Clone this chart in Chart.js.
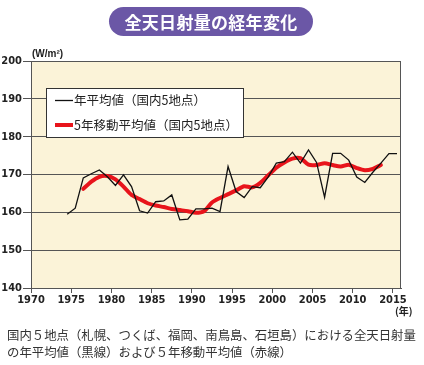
<!DOCTYPE html>
<html>
<head>
<meta charset="utf-8">
<script src="https://cdn.jsdelivr.net/npm/chart.js@4/dist/chart.umd.min.js"></script>
<style>
  body { margin: 0; width: 424px; height: 365px; background: #fff; position: relative; overflow: hidden;
         font-family: "Noto Sans CJK JP", "Noto Sans", sans-serif; }
  #wrap { position: absolute; left: 0; top: 0; width: 424px; height: 310px; }
  #title { position: absolute; left: 109px; top: 7px; width: 204px; height: 29px; border-radius: 15px;
           background: #6b57a6; color: #fff; font-weight: bold; font-size: 17px; line-height: 29px;
           text-align: center; letter-spacing: 0.3px; }
  .unit { position: absolute; font-family: "Liberation Sans", Arial, sans-serif; font-weight: bold;
          font-size: 10px; color: #222; }
  #caption { position: absolute; left: 7px; top: 327px; font-size: 12.4px; line-height: 17px; color: #333;
             white-space: nowrap; }
</style>
</head>
<body>
<div id="wrap"><canvas id="myChart" width="424" height="310"></canvas></div>
<div id="title">全天日射量の経年変化</div>
<div class="unit" style="left:32px; top:48px;">(W/m²)</div>
<div class="unit" style="left:395px; top:305px; line-height:12px; font-family:'Noto Sans CJK JP';">(年)</div>
<div id="caption">国内５地点（札幌、つくば、福岡、南鳥島、石垣島）における全天日射量<br>の年平均値（黒線）および５年移動平均値（赤線）</div>
<script>
// annual mean (black)
var years = [1974, 1975, 1976, 1977, 1978, 1979, 1980, 1981, 1982, 1983,
  1984, 1985, 1986, 1987, 1988, 1989, 1990, 1991, 1992, 1993,
  1994, 1995, 1996, 1997, 1998, 1999, 2000, 2001, 2002, 2003,
  2004, 2005, 2006, 2007, 2008, 2009, 2010, 2011, 2012, 2013,
  2014, 2015];
var annualMean = [159.5, 161.1, 169.1, 170.2, 171.2, 169.4, 167.1, 169.9, 166.8, 160.4,
  159.8, 162.8, 163.0, 164.6, 158.0, 158.2, 160.9, 160.9, 161.1, 160.2,
  172.1, 165.5, 163.9, 166.8, 166.5, 169.4, 173.0, 173.4, 175.9, 173.0,
  176.5, 173.2, 164.0, 175.6, 175.6, 173.8, 169.3, 167.9, 170.6, 173.0,
  175.5, 175.5];

// 5-year moving average (red)
var maYears = [1976, 1977, 1978, 1979, 1980, 1981, 1982, 1983, 1984, 1985,
  1986, 1987, 1988, 1989, 1990, 1991, 1992, 1993, 1994, 1995,
  1996, 1997, 1998, 1999, 2000, 2001, 2002, 2003, 2004, 2005,
  2006, 2007, 2008, 2009, 2010, 2011, 2012, 2013];
var movingAvg = [166.2, 168.1, 169.4, 169.6, 168.7, 166.8, 164.6, 163.5, 162.4, 161.8,
  161.4, 160.9, 160.6, 160.3, 159.9, 160.3, 162.6, 163.8, 164.8, 165.8,
  166.9, 166.6, 167.8, 169.8, 171.8, 173.2, 174.2, 174.3, 172.6, 172.5,
  173.0, 172.5, 172.1, 172.6, 171.7, 171.1, 171.5, 172.5];

var xTicks = [1970, 1975, 1980, 1985, 1990, 1995, 2000, 2005, 2010, 2015];

var labelAnnual = "年平均値（国内5地点）";
var labelMA = "5年移動平均値（国内5地点）";

// yearly values sit in the middle of their year
function toPoints(xs, ys) {
    var pts = [];
    for (var i = 0; i < xs.length; i++) pts.push({x: xs[i] + 0.5, y: ys[i]});
    return pts;
}

var tickFont = {family: "'Liberation Sans Narrow', 'DejaVu Sans Condensed', sans-serif", size: 11, weight: 'bold'};

var frame = {
    id: 'frame',
    beforeDraw: function (chart) {
        var a = chart.chartArea, c = chart.ctx;
        c.save();
        c.fillStyle = '#fbf3d8';
        c.fillRect(a.left, a.top, a.right - a.left, a.bottom - a.top);
        c.restore();
    },
    beforeDatasetsDraw: function (chart) {
        var a = chart.chartArea, c = chart.ctx;
        c.save();
        c.strokeStyle = '#555';
        c.lineWidth = 1;
        c.strokeRect(a.left + 0.5, a.top + 0.5, a.right - a.left - 1, a.bottom - a.top);
        c.restore();
    },
    afterDatasetsDraw: function (chart) {
        var c = chart.ctx;
        c.save();
        c.fillStyle = '#fff';
        c.strokeStyle = '#333';
        c.lineWidth = 1;
        c.fillRect(46.5, 88.5, 197, 49);
        c.strokeRect(46.5, 88.5, 197, 49);
        c.font = "12.5px 'Noto Sans CJK JP'";
        c.textBaseline = 'middle';
        c.fillStyle = '#222';
        chart.data.datasets.forEach(function (ds, i) {
            var y = 100.5 + i * 24.5;
            c.strokeStyle = ds.borderColor;
            c.lineWidth = ds.borderWidth;
            c.beginPath();
            c.moveTo(55, y);
            c.lineTo(73, y);
            c.stroke();
            c.fillText(ds.label, 74, y);
        });
        c.restore();
    }
};

var ctx = document.getElementById("myChart").getContext('2d');
var myChart = new Chart(ctx, {
    type: 'line',
    data: {
        datasets: [{
            label: labelAnnual,
            data: toPoints(years, annualMean),
            borderColor: '#111',
            borderWidth: 1.3,
            pointRadius: 0,
            tension: 0
        }, {
            label: labelMA,
            data: toPoints(maYears, movingAvg),
            borderColor: '#e8141b',
            borderWidth: 4,
            pointRadius: 0,
            tension: 0.25,
            borderCapStyle: 'round'
        }]
    },
    options: {
        responsive: false,
        animation: false,
        layout: {padding: {top: 61, right: 23, left: 0, bottom: 0}},
        plugins: {legend: {display: false}, tooltip: {enabled: false}},
        scales: {
            x: {
                type: 'linear',
                min: 1970,
                max: 2016,
                afterBuildTicks: function (scale) {
                    scale.ticks = xTicks.map(function (v) { return {value: v}; });
                },
                afterFit: function (scale) { scale.height = 22; },
                ticks: {color: '#222', font: tickFont, maxRotation: 0, autoSkip: false, padding: 1,
                        callback: function (v) { return String(v); }},
                grid: {drawOnChartArea: false, drawTicks: true, tickLength: 5, color: '#555'},
                border: {display: true, color: '#555'}
            },
            y: {
                min: 140,
                max: 200,
                afterFit: function (scale) { scale.width = 31; },
                ticks: {stepSize: 10, color: '#222', font: tickFont, padding: 1},
                grid: {color: '#555', lineWidth: 1, tickLength: 8, drawTicks: true},
                border: {display: true, color: '#555'}
            }
        }
    },
    plugins: [frame]
});
</script>
</body>
</html>
